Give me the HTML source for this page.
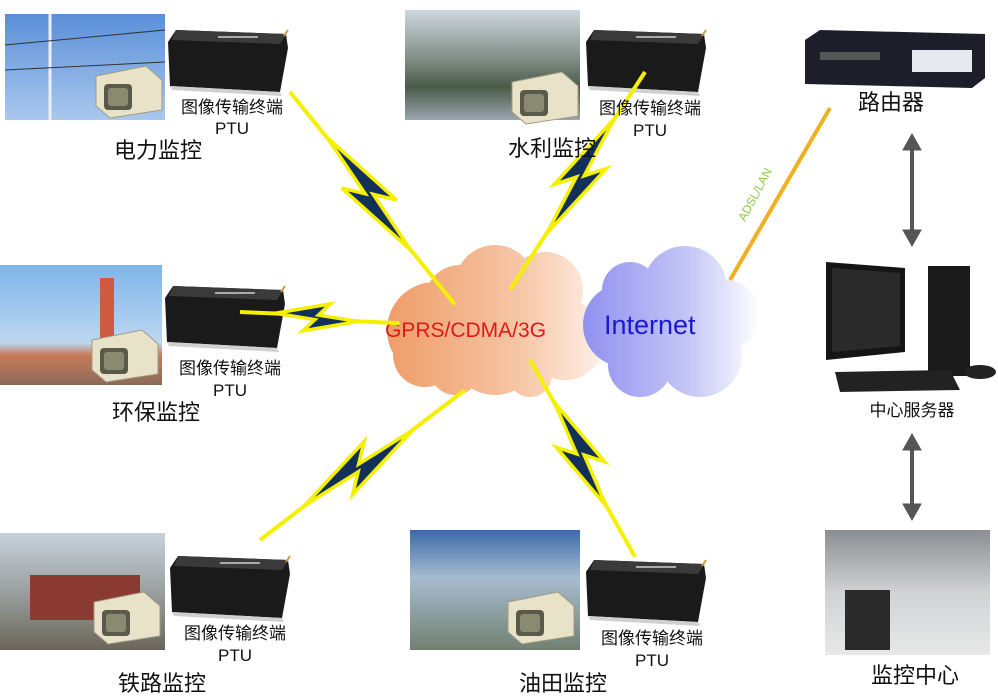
<!DOCTYPE html>
<html><head><meta charset="utf-8"><style>
html,body{margin:0;padding:0;background:#fff;}
svg{display:block;}
text{font-family:"Liberation Sans","Noto Sans CJK SC",sans-serif;}
</style></head><body>
<svg width="998" height="699" viewBox="0 0 998 699" xmlns="http://www.w3.org/2000/svg">
<defs>
<linearGradient id="sky" x1="0" y1="0" x2="0" y2="1"><stop offset="0" stop-color="#5a8fd8"/><stop offset="1" stop-color="#a9c8ee"/></linearGradient>
<linearGradient id="lake" x1="0" y1="0" x2="0" y2="1"><stop offset="0" stop-color="#cfd8de"/><stop offset="0.45" stop-color="#7f8d85"/><stop offset="0.7" stop-color="#4a5a48"/><stop offset="1" stop-color="#9aa6b0"/></linearGradient>
<linearGradient id="env" x1="0" y1="0" x2="0" y2="1"><stop offset="0" stop-color="#7fb4e8"/><stop offset="0.65" stop-color="#bcd7f0"/><stop offset="0.75" stop-color="#c87a5a"/><stop offset="1" stop-color="#8a6a58"/></linearGradient>
<linearGradient id="rail" x1="0" y1="0" x2="0" y2="1"><stop offset="0" stop-color="#c8d2dc"/><stop offset="0.5" stop-color="#9aa0a0"/><stop offset="1" stop-color="#6a6558"/></linearGradient>
<linearGradient id="oil" x1="0" y1="0" x2="0" y2="1"><stop offset="0" stop-color="#3b6aa8"/><stop offset="0.4" stop-color="#a8bcd0"/><stop offset="1" stop-color="#708070"/></linearGradient>
<linearGradient id="ctrl" x1="0" y1="0" x2="0" y2="1"><stop offset="0" stop-color="#8a8e92"/><stop offset="0.5" stop-color="#d0d2d4"/><stop offset="1" stop-color="#e8e8e8"/></linearGradient>
<linearGradient id="oc" gradientUnits="userSpaceOnUse" x1="385" y1="0" x2="610" y2="0"><stop offset="0" stop-color="#ef9c68"/><stop offset="0.6" stop-color="#f6c6a6"/><stop offset="1" stop-color="#fff4ee"/></linearGradient>
<linearGradient id="bc" gradientUnits="userSpaceOnUse" x1="580" y1="0" x2="760" y2="0"><stop offset="0" stop-color="#8f8ff0"/><stop offset="0.6" stop-color="#c4c6f6"/><stop offset="1" stop-color="#ffffff"/></linearGradient>
<g id="dev">
<polygon points="0,12 8,0 118,4 120,18 112,62 2,56" fill="#1a1a1a"/>
<polygon points="8,0 118,4 112,14 4,10" fill="#3a3a3a"/>
<polygon points="2,56 112,62 114,66 4,60" fill="#d0d0d0"/>
<rect x="50" y="6" width="40" height="2" fill="#aaa"/>
<line x1="116" y1="6" x2="120" y2="0" stroke="#c8a040" stroke-width="2"/>
</g>
<g id="cam">
<polygon points="0,10 50,0 66,14 66,44 14,52 0,40" fill="#e8e2c8" stroke="#a09a80"/>
<rect x="8" y="18" width="28" height="26" rx="4" fill="#5a5a4a"/>
<rect x="12" y="22" width="20" height="18" rx="3" fill="#8a8a70"/>
</g>
<g id="bolt">
<line x1="0" y1="0" x2="26" y2="-1" stroke="#f5f000" stroke-width="4" vector-effect="non-scaling-stroke"/>
<line x1="70" y1="1" x2="100" y2="0" stroke="#f5f000" stroke-width="4" vector-effect="non-scaling-stroke"/>
<polygon points="22,-1 56,-12 49,-2 74,1 40,12 47,2" fill="#12305a" stroke="#f5f000" stroke-width="3.5" stroke-linejoin="miter" vector-effect="non-scaling-stroke"/>
</g>
</defs>

<rect x="5" y="14" width="160" height="106" fill="url(#sky)"/>
<line x1="50" y1="14" x2="50" y2="120" stroke="#eee" stroke-width="3"/>
<line x1="5" y1="45" x2="165" y2="30" stroke="#333" stroke-width="1"/>
<line x1="5" y1="70" x2="165" y2="62" stroke="#333" stroke-width="1"/>
<use href="#cam" x="96" y="66"/>
<rect x="405" y="10" width="175" height="110" fill="url(#lake)"/>
<use href="#cam" x="512" y="72"/>
<rect x="0" y="265" width="162" height="120" fill="url(#env)"/>
<rect x="100" y="278" width="14" height="60" fill="#d05a40"/>
<use href="#cam" x="92" y="330"/>
<rect x="0" y="533" width="165" height="117" fill="url(#rail)"/>
<rect x="30" y="575" width="110" height="45" fill="#8a3a30"/>
<use href="#cam" x="94" y="592"/>
<rect x="410" y="530" width="170" height="120" fill="url(#oil)"/>
<use href="#cam" x="508" y="592"/>
<rect x="825" y="530" width="165" height="125" fill="url(#ctrl)"/>
<rect x="845" y="590" width="45" height="60" fill="#2a2a2a"/>

<use href="#dev" x="168" y="30"/>
<use href="#dev" x="586" y="30"/>
<use href="#dev" x="165" y="286"/>
<use href="#dev" x="170" y="556"/>
<use href="#dev" x="586" y="560"/>

<polygon points="805,40 820,30 985,34 985,78 972,88 805,84" fill="#1e1e2a"/>
<rect x="912" y="50" width="60" height="22" fill="#e8e8f0"/>
<rect x="820" y="52" width="60" height="8" fill="#555"/>
<polygon points="826,262 905,268 905,352 826,360" fill="#151515"/>
<polygon points="832,268 900,273 900,346 832,352" fill="#2a2a2a"/>
<rect x="928" y="266" width="42" height="110" fill="#1a1a1a"/>
<polygon points="835,372 950,370 960,390 840,392" fill="#222"/>
<ellipse cx="980" cy="372" rx="16" ry="7" fill="#222"/>

<g fill="#555" stroke="#555">
<line x1="912" y1="148" x2="912" y2="232" stroke-width="4"/>
<polygon points="903,150 912,134 921,150"/><polygon points="903,230 912,246 921,230"/>
<line x1="912" y1="448" x2="912" y2="506" stroke-width="4"/>
<polygon points="903,450 912,434 921,450"/><polygon points="903,504 912,520 921,504"/>
</g>

<g fill="url(#oc)">
<circle cx="435" cy="330" r="48"/><circle cx="495" cy="285" r="40"/><circle cx="545" cy="290" r="38"/>
<circle cx="565" cy="340" r="40"/><circle cx="495" cy="350" r="45"/><circle cx="425" cy="355" r="32"/>
<circle cx="460" cy="300" r="35"/><circle cx="520" cy="320" r="45"/><circle cx="455" cy="370" r="25"/><circle cx="530" cy="375" r="22"/>
</g>
<g fill="url(#bc)">
<circle cx="625" cy="325" r="42"/><circle cx="685" cy="288" r="42"/><circle cx="725" cy="315" r="35"/>
<circle cx="700" cy="355" r="42"/><circle cx="640" cy="365" r="32"/><circle cx="630" cy="290" r="28"/><circle cx="665" cy="330" r="40"/>
</g>
<text x="385" y="337" font-size="21" fill="#e01818">GPRS/CDMA/3G</text>
<text x="604" y="334" font-size="27" fill="#1a1ad0">Internet</text>

<line x1="730" y1="280" x2="830" y2="108" stroke="#f0b020" stroke-width="4"/>
<text x="0" y="0" font-size="12" fill="#8cc850" transform="translate(745,222) rotate(-62)">ADSL/LAN</text>

<use href="#bolt" transform="translate(290,92) rotate(52.2) scale(2.69,1.5)"/>
<use href="#bolt" transform="translate(645,72) rotate(121.8) scale(2.56,-1.5)"/>
<use href="#bolt" transform="translate(240,312) rotate(4) scale(1.6,1.2)"/>
<use href="#bolt" transform="translate(260,540) rotate(-36.2) scale(2.54,1.5)"/>
<use href="#bolt" transform="translate(530,360) rotate(61.9) scale(2.23,1.5)"/>

<g font-size="17" fill="#111" text-anchor="middle">
<text x="232" y="113">图像传输终端</text><text x="232" y="134">PTU</text>
<text x="650" y="114">图像传输终端</text><text x="650" y="136">PTU</text>
<text x="230" y="374">图像传输终端</text><text x="230" y="396">PTU</text>
<text x="235" y="639">图像传输终端</text><text x="235" y="661">PTU</text>
<text x="652" y="644">图像传输终端</text><text x="652" y="666">PTU</text>
<text x="912" y="416">中心服务器</text>
</g>
<g font-size="22" fill="#111" text-anchor="middle">
<text x="158" y="158">电力监控</text>
<text x="552" y="156">水利监控</text>
<text x="156" y="420">环保监控</text>
<text x="162" y="691">铁路监控</text>
<text x="563" y="691">油田监控</text>
<text x="891" y="110">路由器</text>
<text x="915" y="683">监控中心</text>
</g>
</svg>
</body></html>
